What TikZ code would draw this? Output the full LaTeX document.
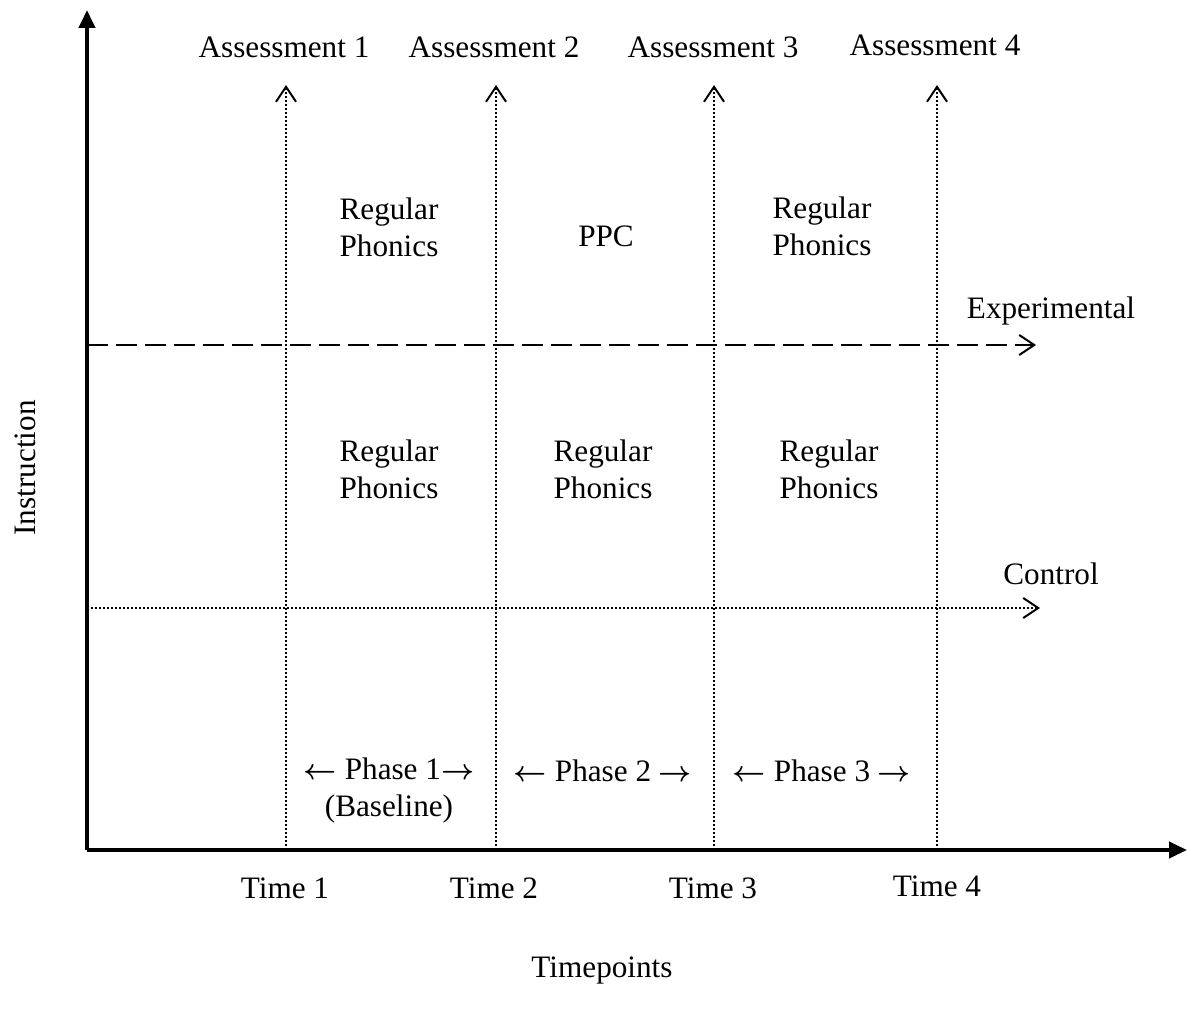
\documentclass[tikz,border=0pt]{standalone}
\usepackage{fontspec}
\setmainfont{Liberation Serif}
\usetikzlibrary{arrows.meta, positioning}

\newcommand{\larr}{{\boldmath$\leftarrow$}}
\newcommand{\rarr}{{\boldmath$\rightarrow$}}

\tikzset{
  axisline/.style={line width=2pt, -{Triangle[length=9pt,width=8pt]}},
  timeline/.style={line width=1pt, densely dotted, -{Straight Barb[length=7.5pt,width=10pt,line width=1pt]}},
  groupline/.style={line width=1.2pt, -{Straight Barb[length=7.5pt,width=10pt,line width=1pt]}},
  lbl/.style={font=\fontsize{15.6}{18.5}\selectfont, align=center, inner sep=0pt}
}

\begin{document}
\begin{tikzpicture}[x=0.5pt, y=-0.5pt]
\useasboundingbox (0,0) rectangle (1187,1015);

% Ejes
\coordinate (origin) at (87,850);
\coordinate (ytop) at (87,10);
\coordinate (xend) at (1187,850);
\draw[axisline] (origin) -- (ytop);
\draw[axisline] (origin) -- (xend);

% Puntos de tiempo
\coordinate (t1) at (286,850);
\coordinate (t2) at (496,850);
\coordinate (t3) at (714,850);
\coordinate (t4) at (937,850);
\coordinate (a1) at (286,85);
\coordinate (a2) at (496,85);
\coordinate (a3) at (714,85);
\coordinate (a4) at (937,85);

% Grupos
\coordinate (exp0) at (87,345);
\coordinate (exp1) at (1036,345);
\coordinate (ctl0) at (87,608);
\coordinate (ctl1) at (1040,608);

% Flechas
\draw[timeline] (t1) -- (a1);
\draw[timeline] (t2) -- (a2);
\draw[timeline] (t3) -- (a3);
\draw[timeline] (t4) -- (a4);
\draw[groupline, dash pattern=on 10.5pt off 4pt] (exp0) -- (exp1);
\draw[groupline, line width=1pt, densely dotted] (ctl0) -- (ctl1);

% Textos
\node[lbl] (as1) at (284,47) {Assessment 1};
\node[lbl] (as2) at (494,47) {Assessment 2};
\node[lbl] (as3) at (713,47) {Assessment 3};
\node[lbl] (as4) at (935,45) {Assessment 4};

\node[lbl] (e1) at (389,227) {Regular\\Phonics};
\node[lbl] (e2) at (606,236) {PPC};
\node[lbl] (e3) at (822,226) {Regular\\Phonics};
\node[lbl] (c1) at (389,469) {Regular\\Phonics};
\node[lbl] (c2) at (603,469) {Regular\\Phonics};
\node[lbl] (c3) at (829,469) {Regular\\Phonics};

\node[lbl] (explbl) at (1051,311) {Experimental};
\node[lbl] (ctllbl) at (1051,574) {Control};

\node[lbl] (ph1) at (389,790) {\larr\ Phase 1\rarr\\(Baseline)};
\node[lbl] (ph2) at (603,771) {\larr\ Phase 2 \rarr};
\node[lbl] (ph3) at (822,771) {\larr\ Phase 3 \rarr};

\node[lbl] (tm1) at (285,888) {Time 1};
\node[lbl] (tm2) at (494,888) {Time 2};
\node[lbl] (tm3) at (713,888) {Time 3};
\node[lbl] (tm4) at (937,886) {Time 4};

\node[lbl] (xlbl) at (602,970) {Timepoints};
\node[lbl, rotate=90] (ylbl) at (25,468) {Instruction};
\end{tikzpicture}
\end{document}
